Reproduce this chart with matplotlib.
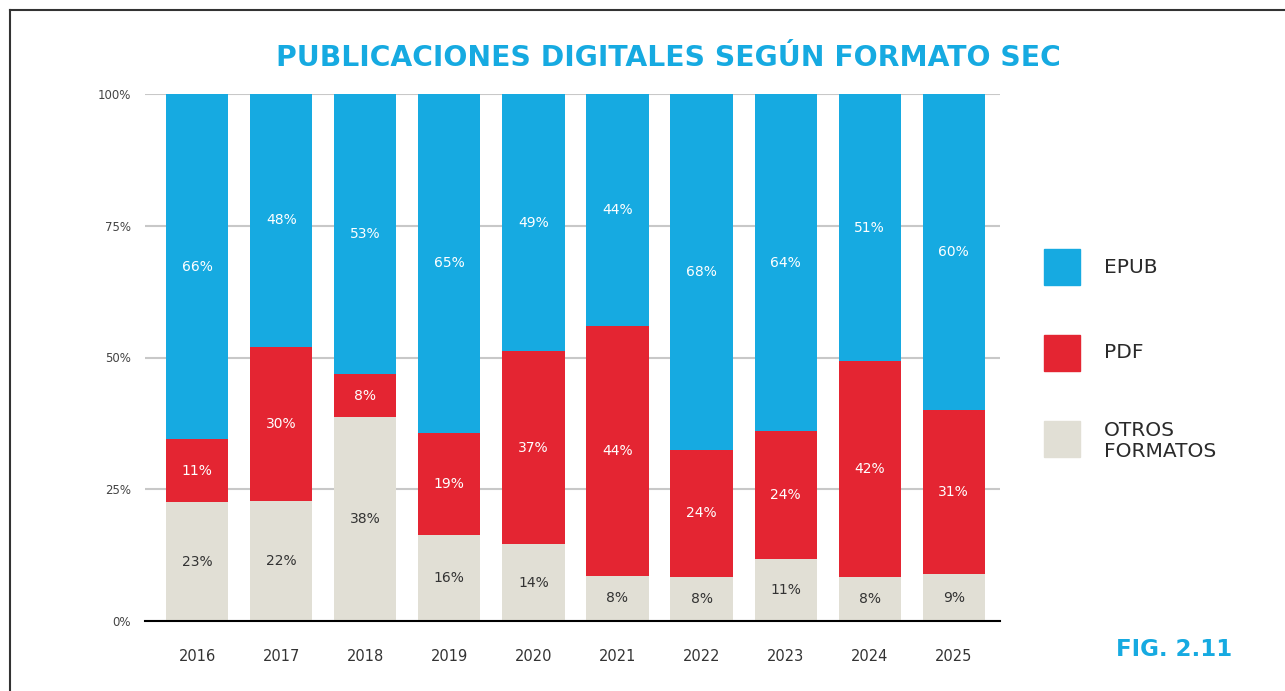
import matplotlib.pyplot as plt
from matplotlib.patches import Rectangle
from matplotlib.lines import Line2D
import numpy as np

# Bar heights (percent), and the printed labels
years = ['2016', '2017', '2018', '2019', '2020', '2021', '2022', '2023', '2024', '2025']
otros = [22.5, 22.7, 38.7, 16.4, 14.6, 8.6, 8.4, 11.8, 8.4, 8.9]
pdf = [12.0, 29.3, 8.1, 19.3, 36.6, 47.3, 24.1, 24.2, 40.9, 31.2]
epub = [65.5, 48.0, 53.2, 64.3, 48.8, 44.1, 67.5, 64.0, 50.7, 59.9]
otros_labels = ['23%', '22%', '38%', '16%', '14%', '8%', '8%', '11%', '8%', '9%']
pdf_labels = ['11%', '30%', '8%', '19%', '37%', '44%', '24%', '24%', '42%', '31%']
epub_labels = ['66%', '48%', '53%', '65%', '49%', '44%', '68%', '64%', '51%', '60%']

BLUE = '#16AAE1'
RED = '#E42532'
BEIGE = '#E1DFD5'
FONT = 'DejaVu Sans'

fig = plt.figure(figsize=(12.85, 6.91), dpi=100)
ax = fig.add_axes([145 / 1285, 1 - 621 / 691, 855 / 1285, 527 / 691])

x = np.arange(len(years))
w = 0.74
otros = np.array(otros)
pdf = np.array(pdf)
epub = np.array(epub)

ax.bar(x, otros, w, color=BEIGE, zorder=2)
ax.bar(x, pdf, w, bottom=otros, color=RED, zorder=2)
ax.bar(x, epub, w, bottom=otros + pdf, color=BLUE, zorder=2)

# segment labels
for i in range(len(years)):
    ax.text(x[i], otros[i] / 2, otros_labels[i], ha='center', va='center',
            color='#333333', fontsize=10, family=FONT, zorder=3)
    ax.text(x[i], otros[i] + pdf[i] / 2, pdf_labels[i], ha='center', va='center',
            color='white', fontsize=10, family=FONT, zorder=3)
    ax.text(x[i], otros[i] + pdf[i] + epub[i] / 2, epub_labels[i], ha='center',
            va='center', color='white', fontsize=10, family=FONT, zorder=3)

ax.set_xlim(-0.62, 9.55)
ax.set_ylim(0, 100)
ax.set_yticks([0, 25, 50, 75, 100])
ax.set_yticklabels(['0%', '25%', '50%', '75%', '100%'], family=FONT,
                   fontsize=8.5, color='#444444')
ax.set_xticks(x)
ax.set_xticklabels(years, family=FONT, fontsize=10.5, color='#333333')
ax.tick_params(axis='both', length=0)
ax.tick_params(axis='y', pad=10)
ax.tick_params(axis='x', pad=20)
ax.grid(axis='y', color='#C8C8C8', linewidth=1.5, zorder=0)
ax.set_axisbelow(True)
for s in ['top', 'right', 'left']:
    ax.spines[s].set_visible(False)
ax.spines['bottom'].set_color('black')
ax.spines['bottom'].set_linewidth(1.5)
ax.spines['bottom'].set_zorder(4)

# title
fig.text(668 / 1285, 1 - 58 / 691, 'PUBLICACIONES DIGITALES SEGÚN FORMATO SEC',
         ha='center', va='center', color=BLUE, fontsize=20.3,
         fontweight='bold', family=FONT)

# legend drawn by hand
legend_items = [('EPUB', BLUE, 267), ('PDF', RED, 353), ('OTROS\nFORMATOS', BEIGE, 441)]
for name, col, yc in legend_items:
    sq_y = 267 if name == 'EPUB' else (353 if name == 'PDF' else 439)
    fig.patches.append(Rectangle((1044 / 1285, 1 - (sq_y + 18) / 691), 36 / 1285, 36 / 691,
                                 transform=fig.transFigure, color=col))
    fig.text(1104 / 1285, 1 - yc / 691, name, ha='left', va='center',
             fontsize=14.5, color='#2a2a2a', family=FONT, linespacing=1.15)

fig.text(1174 / 1285, 1 - 650 / 691, 'FIG. 2.11', ha='center', va='center',
         color=BLUE, fontsize=16.5, fontweight='bold', family=FONT)

# frame lines on top and left
fig.add_artist(Line2D([10 / 1285, 1], [1 - 10 / 691, 1 - 10 / 691],
                      transform=fig.transFigure, color='#333333', linewidth=1.5))
fig.add_artist(Line2D([10 / 1285, 10 / 1285], [0, 1 - 10 / 691],
                      transform=fig.transFigure, color='#333333', linewidth=1.5))

fig.savefig('out.png', dpi=100, facecolor='white')
